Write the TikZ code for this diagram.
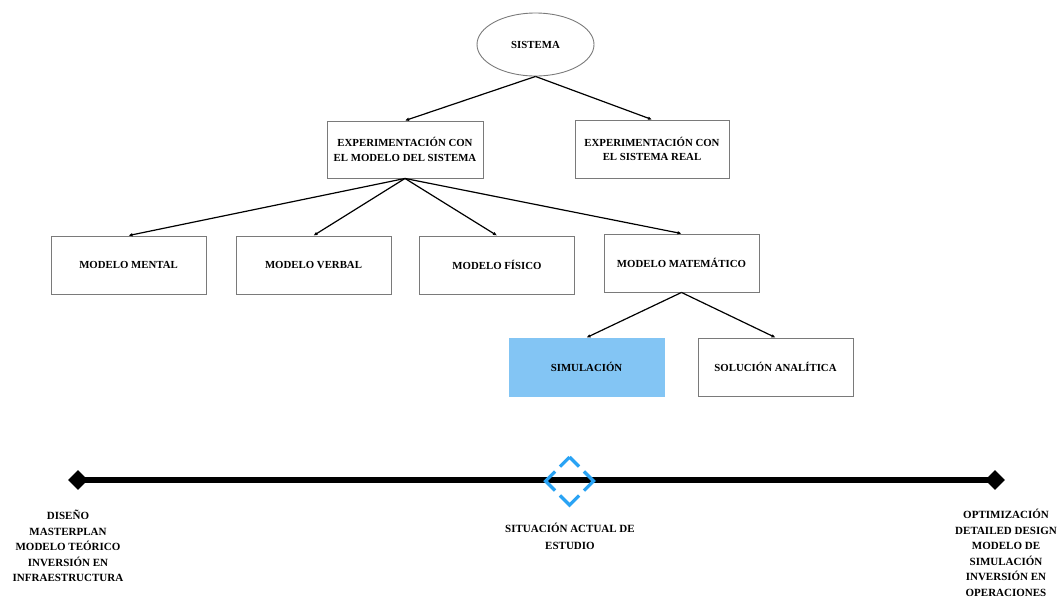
\documentclass[tikz,border=0pt]{standalone}
\usepackage{fontspec}
\setmainfont{Liberation Serif}
\usetikzlibrary{shapes.geometric,arrows.meta,calc}
\definecolor{boxgray}{HTML}{7A7A7A}
\definecolor{simblue}{HTML}{83C5F4}
\definecolor{markblue}{HTML}{2AA3F4}
\tikzset{
  boxtext/.style={font=\bfseries\fontsize{10.8}{14.7}\selectfont, align=center},
  modelbox/.style={boxtext, draw=boxgray, line width=0.9pt, rectangle,
    minimum width=155pt, minimum height=58pt, inner sep=2pt},
  conn/.style={line width=1.2pt, -{Latex[length=4pt,width=3.6pt]}},
  milestone/.style={diamond, fill=black, inner sep=0pt, minimum width=20pt, minimum height=20pt},
  tltext/.style={font=\bfseries\fontsize{11}{15.5}\selectfont, align=center, inner sep=0pt, anchor=north},
}
\begin{document}
\begin{tikzpicture}[x=1pt,y=-1pt]
\useasboundingbox (0,0) rectangle (1059,598);

% root
\node[boxtext, draw=boxgray, line width=0.9pt, ellipse, minimum width=117pt, minimum height=63pt, inner sep=0pt]
  (sys) at (535.5,44.5) {SISTEMA};

% second level
\node[modelbox, minimum width=156pt, minimum height=57pt] (exm) at (405,149.5)
  {EXPERIMENTACIÓN CON\\EL MODELO DEL SISTEMA};
\node[modelbox, minimum width=154pt] (exr) at (652,149)
  {EXPERIMENTACIÓN CON\\EL SISTEMA REAL};

% kinds of model
\node[modelbox] (men) at (128.5,265) {MODELO MENTAL};
\node[modelbox] (ver) at (313.5,265) {MODELO VERBAL};
\node[modelbox] (fis) at (497,265) {MODELO FÍSICO};
\node[modelbox] (mat) at (681.5,263) {MODELO MATEMÁTICO};

% solution methods
\node[modelbox, draw=simblue, fill=simblue] (sim) at (586.5,367) {SIMULACIÓN};
\node[modelbox] (sol) at (775.5,367) {SOLUCIÓN ANALÍTICA};

% connectors
\draw[conn] (sys.south) -- (exm.north);
\draw[conn] (sys.south) -- (exr.north);
\draw[conn] (exm.south) -- (men.north);
\draw[conn] (exm.south) -- (ver.north);
\draw[conn] (exm.south) -- (fis.north);
\draw[conn] (exm.south) -- (mat.north);
\draw[conn] (mat.south) -- (sim.north);
\draw[conn] (mat.south) -- (sol.north);

% timeline
\coordinate (tlL) at (78,480);
\coordinate (tlR) at (995,480);
\coordinate (tlC) at (569.5,481);
\draw[line width=5.2pt] (tlL) -- (tlR);
\node[milestone] (msL) at (tlL) {};
\node[milestone] (msR) at (tlR) {};
% dashed marker: solid corners, a gap in the middle of each side
\draw[markblue, line width=3.2pt, dash pattern=on 26.94pt off 7pt, dash phase=13.47pt]
  ($(tlC)+(0,-24)$) -- ($(tlC)+(24,0)$) -- ($(tlC)+(0,24)$) -- ($(tlC)+(-24,0)$) -- cycle;

\node[tltext] (lblL) at (68,510) {DISEÑO\\MASTERPLAN\\MODELO TEÓRICO\\INVERSIÓN EN\\INFRAESTRUCTURA};
\node[tltext, font=\bfseries\fontsize{11}{16.6}\selectfont] (lblC) at (570,523) {SITUACIÓN ACTUAL DE\\ESTUDIO};
\node[tltext] (lblR) at (1006,509) {OPTIMIZACIÓN\\DETAILED DESIGN\\MODELO DE\\SIMULACIÓN\\INVERSIÓN EN\\OPERACIONES};
\end{tikzpicture}
\end{document}
